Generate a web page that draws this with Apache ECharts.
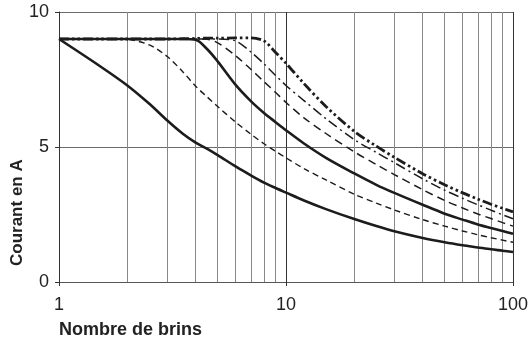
<!DOCTYPE html>
<html>
<head>
<meta charset="utf-8">
<script src="https://cdn.jsdelivr.net/npm/echarts@6/dist/echarts.min.js"></script>
<style>html,body{margin:0;padding:0;background:#fff}#c{width:531px;height:345px}</style>
</head>
<body>
<div id="c"></div>
<script>
// Tick labels
var xTickLabels = ['1', '10', '100'];
var yTickLabels = ['0', '5', '10'];
var minorX = [2, 3, 4, 5, 6, 7, 8, 9, 20, 30, 40, 50, 60, 70, 80, 90];

// Shared x values (Nombre de brins)
var brins = [1, 1.5, 2, 2.5, 3, 3.5, 4, 4.5, 5, 6, 7, 8, 9, 10, 12, 15, 20, 25, 30, 40, 50, 60, 70, 80, 90, 100];
// Courant en A, one array per curve
var curveA = [9.0, 8.02, 7.28, 6.6, 5.98, 5.5, 5.16, 4.93, 4.7, 4.28, 3.95, 3.68, 3.48, 3.31, 3.02, 2.7, 2.33, 2.07, 1.88, 1.63, 1.47, 1.36, 1.28, 1.21, 1.16, 1.11];
var curveB = [9.0, 9.0, 8.98, 8.78, 8.35, 7.8, 7.25, 6.85, 6.5, 5.92, 5.48, 5.12, 4.84, 4.6, 4.2, 3.78, 3.25, 2.92, 2.67, 2.31, 2.07, 1.89, 1.75, 1.64, 1.55, 1.47];
var curveC = [9.0, 9.0, 9.0, 9.0, 9.0, 9.0, 8.97, 8.62, 8.17, 7.3, 6.7, 6.26, 5.92, 5.62, 5.13, 4.6, 4.02, 3.6, 3.3, 2.86, 2.53, 2.31, 2.13, 2.0, 1.89, 1.79];
var curveD = [9.0, 9.0, 9.0, 9.0, 9.0, 9.0, 9.0, 8.99, 8.86, 8.38, 7.88, 7.42, 7.02, 6.65, 6.08, 5.5, 4.82, 4.35, 3.98, 3.42, 3.02, 2.74, 2.52, 2.35, 2.2, 2.07];
var curveE = [9.0, 9.0, 9.0, 9.0, 9.0, 9.0, 9.0, 9.0, 9.0, 8.93, 8.52, 8.08, 7.65, 7.28, 6.72, 6.05, 5.27, 4.8, 4.42, 3.82, 3.4, 3.1, 2.86, 2.66, 2.49, 2.34];
var curveF = [9.0, 9.0, 9.0, 9.0, 9.0, 9.01, 9.02, 9.03, 9.03, 9.04, 9.04, 8.93, 8.5, 8.1, 7.35, 6.5, 5.58, 5.03, 4.62, 4.01, 3.6, 3.3, 3.07, 2.88, 2.73, 2.6];

function zip(xs, ys) { return xs.map(function (x, i) { return [x, ys[i]]; }); }

var ink = '#1c1c1c';
var font = 'Liberation Sans, Arial, sans-serif';

function curve(name, ys, width, dash) {
  return {
    name: name, type: 'line', data: zip(brins, ys), smooth: 0.3, showSymbol: false,
    z: 5, lineStyle: { color: ink, width: width, type: dash, cap: 'butt' }
  };
}

var chart = echarts.init(document.getElementById('c'), null, { renderer: 'canvas' });
chart.setOption({
  animation: false,
  grid: { left: 59, right: 9, top: 12, bottom: 63, containLabel: false },
  xAxis: {
    type: 'log', logBase: 10, min: 1, max: 100,
    axisLine: { show: true, onZero: false, lineStyle: { color: '#555', width: 1 } },
    axisTick: { show: true, length: 4, lineStyle: { color: '#333' } },
    axisLabel: { fontSize: 18, color: '#222', fontFamily: font, margin: 14,
      formatter: function (v) { var s = String(Math.round(v)); return xTickLabels.indexOf(s) >= 0 ? s : ''; } },
    splitLine: { show: true, lineStyle: { color: '#333', width: 1 } }
  },
  yAxis: {
    type: 'value', min: 0, max: 10, interval: 5,
    axisLine: { show: true, lineStyle: { color: '#333', width: 1 } },
    axisTick: { show: true, length: 4, lineStyle: { color: '#333' } },
    axisLabel: { fontSize: 18, color: '#222', fontFamily: font, margin: 10,
      formatter: function (v) { var s = String(v); return yTickLabels.indexOf(s) >= 0 ? s : ''; } },
    splitLine: { show: true, lineStyle: { color: '#6a6a6a', width: 1 } }
  },
  graphic: [
    { type: 'text', left: 59, top: 321, style: { text: 'Nombre de brins', font: 'bold 18px ' + font, fill: '#222' } },
    { type: 'text', x: 9, y: 266, rotation: Math.PI / 2, style: { text: 'Courant en A', font: 'bold 17px ' + font, fill: '#222', textAlign: 'left', textVerticalAlign: 'top' } }
  ],
  series: [
    {
      name: 'grid', type: 'line', data: [], z: 1, silent: true,
      markLine: {
        silent: true, symbol: 'none', label: { show: false }, animation: false,
        lineStyle: { color: '#888', width: 1, type: 'solid' },
        data: minorX.map(function (v) { return { xAxis: v }; })
      }
    },
    curve('A', curveA, 2.6, 'solid'),
    curve('B', curveB, 1.4, [6, 4]),
    curve('C', curveC, 2.6, 'solid'),
    curve('D', curveD, 1.5, [8, 5]),
    curve('E', curveE, 1.5, [10, 4, 2, 4]),
    curve('F', curveF, 2.8, [10, 3, 2.5, 3, 2.5, 3])
  ]
});
</script>
</body>
</html>
